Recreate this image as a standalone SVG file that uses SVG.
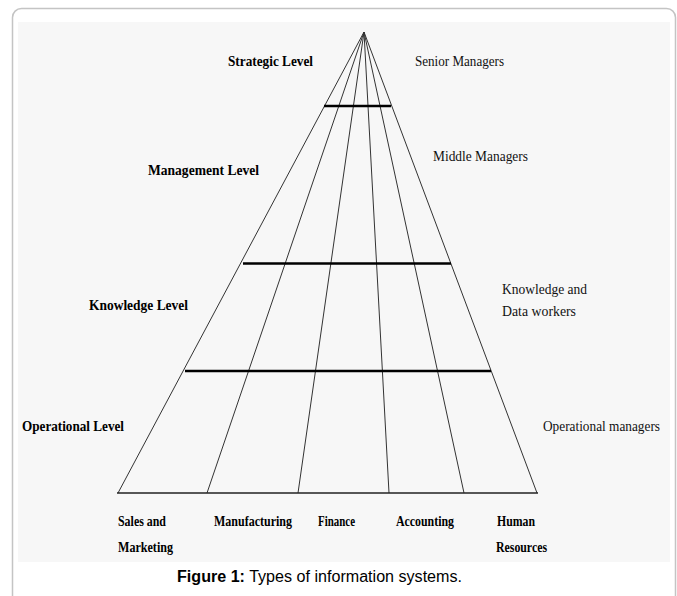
<svg xmlns="http://www.w3.org/2000/svg" width="677" height="596" viewBox="0 0 677 596">
<style>
.lvl{font-family:"Liberation Serif","Times New Roman",serif;font-weight:bold;font-size:14px;fill:#000}
.role{font-family:"Liberation Serif","Times New Roman",serif;font-size:14px;fill:#111}
.dept{font-family:"Liberation Serif","Times New Roman",serif;font-weight:bold;font-size:14px;fill:#000}
.cap{font-family:"Liberation Sans",Arial,sans-serif;font-size:16px;fill:#000}
.ray{stroke:#333;stroke-width:1;fill:none}
.bar{stroke:#000;stroke-width:2.6;fill:none}
</style>
<rect x="0" y="0" width="677" height="596" fill="#ffffff"/>
<rect x="12.5" y="8.5" width="663" height="600" rx="9" fill="#ffffff" stroke="#c4c4c4" stroke-width="1.5"/>
<rect x="18" y="22" width="652" height="540" fill="#f7f7f7"/>
<g id="connectors">
<line class="ray" x1="364" y1="32" x2="118" y2="493"/>
<line class="ray" x1="364" y1="32" x2="207" y2="493"/>
<line class="ray" x1="364" y1="32" x2="298" y2="493"/>
<line class="ray" x1="364" y1="32" x2="389" y2="493"/>
<line class="ray" x1="364" y1="32" x2="464" y2="493"/>
<line class="ray" x1="364" y1="32" x2="537" y2="493"/>
<line x1="117" y1="493" x2="538" y2="493" stroke="#222" stroke-width="1.6"/>
<line class="bar" x1="324" y1="106" x2="391" y2="106"/>
<line class="bar" x1="243" y1="263.5" x2="451" y2="263.5"/>
<line class="bar" x1="185" y1="371" x2="491" y2="371"/>
</g>
<g id="strategic"><text class="lvl" x="228" y="66" textLength="85" lengthAdjust="spacingAndGlyphs">Strategic Level</text></g>
<g id="senior"><text class="role" x="415" y="66" textLength="89" lengthAdjust="spacingAndGlyphs">Senior Managers</text></g>
<g id="management"><text class="lvl" x="148" y="175" textLength="111" lengthAdjust="spacingAndGlyphs">Management Level</text></g>
<g id="middle"><text class="role" x="433" y="161" textLength="95" lengthAdjust="spacingAndGlyphs">Middle Managers</text></g>
<g id="knowledge"><text class="lvl" x="89" y="310" textLength="99" lengthAdjust="spacingAndGlyphs">Knowledge Level</text></g>
<g id="kworkers">
<text class="role" x="502" y="294" textLength="85" lengthAdjust="spacingAndGlyphs">Knowledge and</text>
<text class="role" x="502" y="316" textLength="74" lengthAdjust="spacingAndGlyphs">Data workers</text>
</g>
<g id="operational"><text class="lvl" x="22" y="431" textLength="102" lengthAdjust="spacingAndGlyphs">Operational Level</text></g>
<g id="opmanagers"><text class="role" x="543" y="431" textLength="117" lengthAdjust="spacingAndGlyphs">Operational managers</text></g>
<g id="sales">
<text class="dept" x="118" y="526" textLength="48" lengthAdjust="spacingAndGlyphs">Sales and</text>
<text class="dept" x="118" y="552" textLength="55" lengthAdjust="spacingAndGlyphs">Marketing</text>
</g>
<g id="manufacturing"><text class="dept" x="214" y="526" textLength="78" lengthAdjust="spacingAndGlyphs">Manufacturing</text></g>
<g id="finance"><text class="dept" x="318" y="526" textLength="37" lengthAdjust="spacingAndGlyphs">Finance</text></g>
<g id="accounting"><text class="dept" x="396" y="526" textLength="58" lengthAdjust="spacingAndGlyphs">Accounting</text></g>
<g id="hr">
<text class="dept" x="497" y="526" textLength="38" lengthAdjust="spacingAndGlyphs">Human</text>
<text class="dept" x="496" y="552" textLength="51" lengthAdjust="spacingAndGlyphs">Resources</text>
</g>
<g id="caption"><text class="cap" x="177" y="582" textLength="285" lengthAdjust="spacingAndGlyphs"><tspan font-weight="bold">Figure 1:</tspan> Types of information systems.</text></g>
</svg>
